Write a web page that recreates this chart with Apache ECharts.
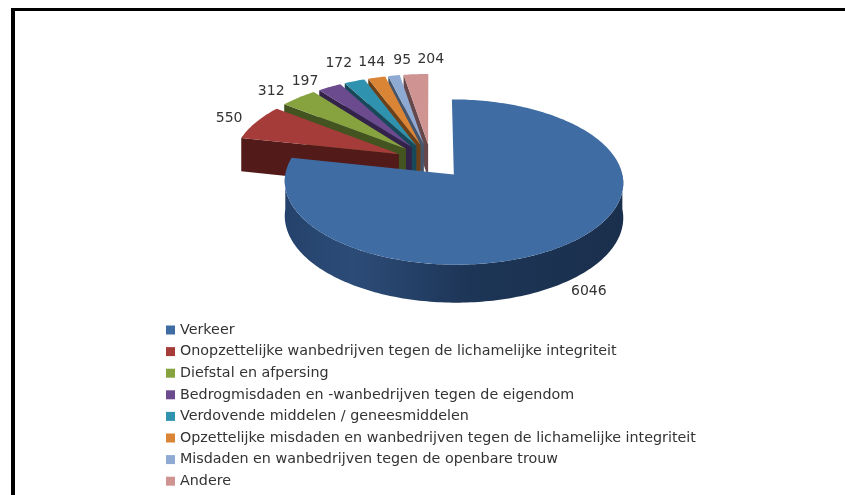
<!DOCTYPE html>
<html>
<head>
<meta charset="utf-8">
<style>
html, body { margin: 0; padding: 0; background: #fff; }
#chart { width: 845px; height: 495px; }
</style>
</head>
<body>
<div id="chart"></div>
<script src="https://cdn.jsdelivr.net/npm/echarts@6/dist/echarts.min.js"></script>
<script>
const categories = [
	'Verkeer',
	'Onopzettelijke wanbedrijven tegen de lichamelijke integriteit',
	'Diefstal en afpersing',
	'Bedrogmisdaden en -wanbedrijven tegen de eigendom',
	'Verdovende middelen / geneesmiddelen',
	'Opzettelijke misdaden en wanbedrijven tegen de lichamelijke integriteit',
	'Misdaden en wanbedrijven tegen de openbare trouw',
	'Andere'
];
const values = [6046, 550, 312, 197, 172, 144, 95, 204];

// styling
const topColors = ['#3f6ca3', '#a63c3a', '#87a340', '#6b4a8e', '#2f93b0', '#da8435', '#8eaad3', '#cf9392'];
const sideColors = ['#1d3556', '#521a18', '#435420', '#33224a', '#17495a', '#6e4018', '#45556b', '#66484a'];
// labels were spread out by hand in the original, so they sit off the bisector
const labelNudge = [[19, 11], [-13, -1], [-17, -2], [-17, 0], [-10, -12], [-1, -9], [11, -9], [16, -8]];

// 3d look: a flat disc seen in perspective, each slice pulled out along its bisector
const view = { cx: 431, cy: 161, rx: 166, ry: 79.5, p: 0.09, depth: 34, explode: 0.215 };
const total = values.reduce((a, b) => a + b, 0);

function project(u, v, drop) {
	const s = 1 / (1 + view.p * v);
	return [view.cx + view.rx * u * s, view.cy - view.ry * v * s + (drop ? view.depth * s : 0)];
}

function sliceGeom(idx) {
	let before = 0;
	for (let i = 0; i < idx; i++) before += values[i];
	const a0 = before / total * Math.PI * 2;
	const a1 = (before + values[idx]) / total * Math.PI * 2;
	const mid = (a0 + a1) / 2;
	return { a0, a1, mid, ox: Math.sin(mid) * view.explode, oy: Math.cos(mid) * view.explode };
}

function rim(g, from, to, drop) {
	const pts = [];
	const n = Math.max(2, Math.ceil(Math.abs(to - from) / 0.02));
	for (let i = 0; i <= n; i++) {
		const a = from + (to - from) * i / n;
		pts.push(project(g.ox + Math.sin(a), g.oy + Math.cos(a), drop));
	}
	return pts;
}

function renderSlice(idx) {
	const g = sliceGeom(idx);
	const z2 = 20 - idx;
	const children = [];
	const apex = project(g.ox, g.oy, false);
	const apexLow = project(g.ox, g.oy, true);

	// cut face on the start side, hidden for the big slice
	if (idx > 0) {
		const edge = project(g.ox + Math.sin(g.a0), g.oy + Math.cos(g.a0), false);
		const edgeLow = project(g.ox + Math.sin(g.a0), g.oy + Math.cos(g.a0), true);
		children.push({
			type: 'polygon',
			z2: z2,
			shape: { points: [apex, edge, edgeLow, apexLow] },
			style: { fill: sideColors[idx] }
		});
	}
	// outer wall, only the part turned towards us
	const w0 = Math.max(g.a0, Math.PI / 2);
	const w1 = Math.min(g.a1, Math.PI * 1.5);
	if (w1 > w0) {
		const hi = rim(g, w0, w1, false);
		const lo = rim(g, w0, w1, true).reverse();
		children.push({
			type: 'polygon',
			z2: z2,
			shape: { points: hi.concat(lo) },
			style: {
				fill: new echarts.graphic.LinearGradient(0, 0, 1, 0, [
					{ offset: 0, color: '#24426b' },
					{ offset: 0.2, color: '#2c4c78' },
					{ offset: 0.55, color: '#1d3556' },
					{ offset: 0.85, color: '#1b3150' },
					{ offset: 1, color: '#1a2f4c' }
				])
			}
		});
	}
	// top face
	children.push({
		type: 'polygon',
		z2: z2,
		shape: { points: [apex].concat(rim(g, g.a0, g.a1, false)) },
		style: { fill: topColors[idx] }
	});
	// value label
	const lp = idx === 0
		? project(g.ox + Math.sin(g.mid) * 1.0, g.oy + Math.cos(g.mid) * 1.0, true)
		: project(g.ox + Math.sin(g.mid) * 1.1, g.oy + Math.cos(g.mid) * 1.1, false);
	children.push({
		type: 'text',
		z2: 40,
		x: lp[0] + labelNudge[idx][0],
		y: lp[1] + labelNudge[idx][1],
		style: {
			text: String(values[idx]),
			fill: '#333',
			font: '14px "DejaVu Sans"',
			align: 'center',
			verticalAlign: 'middle'
		}
	});
	return { type: 'group', children: children };
}

const myChart = echarts.init(document.getElementById('chart'));
const option = {
	animation: false,
	backgroundColor: '#fff',
	legend: {
		orient: 'vertical',
		left: 161,
		top: 317,
		icon: 'rect',
		itemWidth: 9,
		itemHeight: 9,
		itemGap: 5.6,
		selectedMode: false,
		textStyle: { color: '#333', fontFamily: 'DejaVu Sans', fontSize: 14.3, lineHeight: 16 },
		data: categories
	},
	graphic: [
		{ type: 'rect', shape: { x: 11, y: 8, width: 834, height: 3 }, style: { fill: '#000' } },
		{ type: 'rect', shape: { x: 11, y: 8, width: 4, height: 487 }, style: { fill: '#000' } }
	],
	series: categories.map((name, idx) => ({
		type: 'custom',
		name: name,
		coordinateSystem: 'none',
		itemStyle: { color: topColors[idx] },
		data: [values[idx]],
		renderItem: () => renderSlice(idx)
	}))
};
myChart.setOption(option);
</script>
</body>
</html>
